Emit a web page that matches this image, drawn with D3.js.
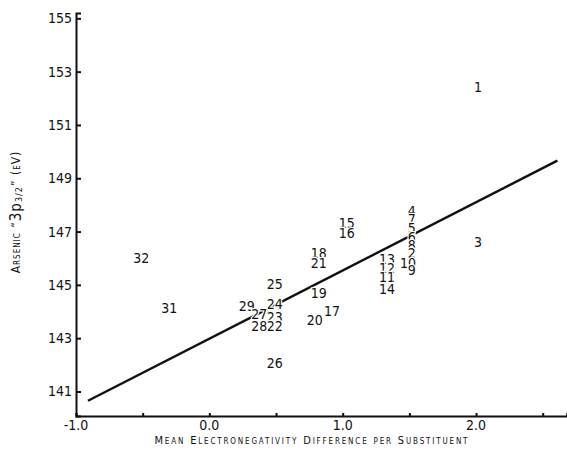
<!DOCTYPE html>
<html>
<head>
<meta charset="utf-8">
<script src="https://cdn.jsdelivr.net/npm/d3@7"></script>
<style>
  body { margin: 0; background: #fff; }
  svg { display: block; }
  text { font-family: "Liberation Sans Narrow", "DejaVu Sans Condensed", "Liberation Sans", sans-serif; fill: #111; }
</style>
</head>
<body>
<svg id="chart" width="567" height="461"></svg>
<script>
// compound numbers
const ids = ["1", "3", "4", "7", "5", "6", "8", "2", "10", "9",
  "13", "12", "11", "14", "15", "16", "18", "21", "19", "17", "20",
  "25", "24", "23", "22", "29", "27", "28", "26", "32", "31"];
// mean electronegativity difference per substituent
const xVals = [2.015, 2.015, 1.518, 1.518, 1.518, 1.518, 1.518, 1.518, 1.49, 1.518,
  1.333, 1.333, 1.333, 1.333, 1.03, 1.03, 0.82, 0.82, 0.82, 0.92, 0.79,
  0.49, 0.49, 0.49, 0.49, 0.28, 0.375, 0.375, 0.49, -0.51, -0.30];
// arsenic "3p3/2" binding energy (eV)
const yVals = [152.41, 146.59, 147.76, 147.48, 147.14, 146.81, 146.51, 146.21, 145.83, 145.55,
  145.97, 145.63, 145.28, 144.86, 147.33, 146.95, 146.2, 145.83, 144.7, 144.02, 143.7,
  145.03, 144.28, 143.78, 143.46, 144.22, 143.9, 143.46, 142.08, 145.99, 144.12];

// least squares line drawn on the figure
const fitX = [-0.91, 2.61];
const fitSlope = 2.56;
const fitIntercept = 142.98;

const yTicks = [141, 143, 145, 147, 149, 151, 153, 155];
const xTicks = [-1.0, -0.5, 0.0, 0.5, 1.0, 1.5, 2.0, 2.5];
const xTickLabels = ["-1.0", "0.0", "1.0", "2.0"];

const svg = d3.select("#chart");

const x = d3.scaleLinear().domain([-1.0, 2.68]).range([76, 566.7]);
const y = d3.scaleLinear().domain([140.08, 155.2]).range([416, 13]);

//axes
const yAxis = svg.append("g").attr("transform", `translate(${x(-1.0)},0)`)
  .call(d3.axisRight(y).tickValues(yTicks).tickSize(5).tickFormat(""));
const xAxis = svg.append("g").attr("transform", `translate(0,${y.range()[0]})`)
  .call(d3.axisTop(x).tickValues(xTicks).tickSize(3).tickFormat(""));
[yAxis, xAxis].forEach(g => {
  g.select(".domain").attr("stroke", "#111").attr("stroke-width", 2);
  g.selectAll(".tick line").attr("stroke", "#111").attr("stroke-width", 2);
});

//tick labels
svg.append("g").selectAll("text").data(yTicks).join("text")
  .attr("x", 72).attr("y", d => y(d))
  .attr("text-anchor", "end").attr("dominant-baseline", "central")
  .style("font-size", "14px")
  .text(d => d);

svg.append("g").selectAll("text").data(xTickLabels).join("text")
  .attr("x", d => x(+d)).attr("y", 425)
  .attr("text-anchor", "middle").attr("dominant-baseline", "central")
  .style("font-size", "14px")
  .text(d => d);

//fit line
const line = d3.line().x(d => x(d)).y(d => y(fitIntercept + fitSlope * d));
svg.append("path").datum(fitX)
  .attr("d", line).attr("fill", "none")
  .attr("stroke", "#111").attr("stroke-width", 2.4);

//points are drawn as their compound numbers, white halo cuts the line
svg.append("g").selectAll("text").data(ids).join("text")
  .attr("x", (d, i) => x(xVals[i])).attr("y", (d, i) => y(yVals[i]))
  .attr("text-anchor", "middle").attr("dominant-baseline", "central")
  .style("font-size", "14px")
  .attr("stroke", "#fff").attr("stroke-width", 2.5)
  .attr("paint-order", "stroke")
  .text(d => d);

//axis titles
svg.append("text")
  .attr("x", 311).attr("y", 440)
  .attr("text-anchor", "middle").attr("dominant-baseline", "central")
  .attr("textLength", 313).attr("lengthAdjust", "spacing")
  .style("font-size", "11px").style("font-variant", "small-caps")
  .text("Mean Electronegativity Difference per Substituent");

const yTitle = svg.append("text")
  .attr("transform", "translate(16,212) rotate(-90)")
  .attr("text-anchor", "middle").attr("dominant-baseline", "central")
  .style("font-size", "12px").style("font-variant", "small-caps")
  .style("letter-spacing", "1px");
yTitle.append("tspan").text("Arsenic \u201C");
yTitle.append("tspan").style("font-size", "15px").style("font-variant", "normal").text("3p");
yTitle.append("tspan").attr("dy", 3).style("font-size", "9px").style("font-variant", "normal").text("3/2");
yTitle.append("tspan").attr("dy", -3).text("\u201D (eV)");
</script>
</body>
</html>
